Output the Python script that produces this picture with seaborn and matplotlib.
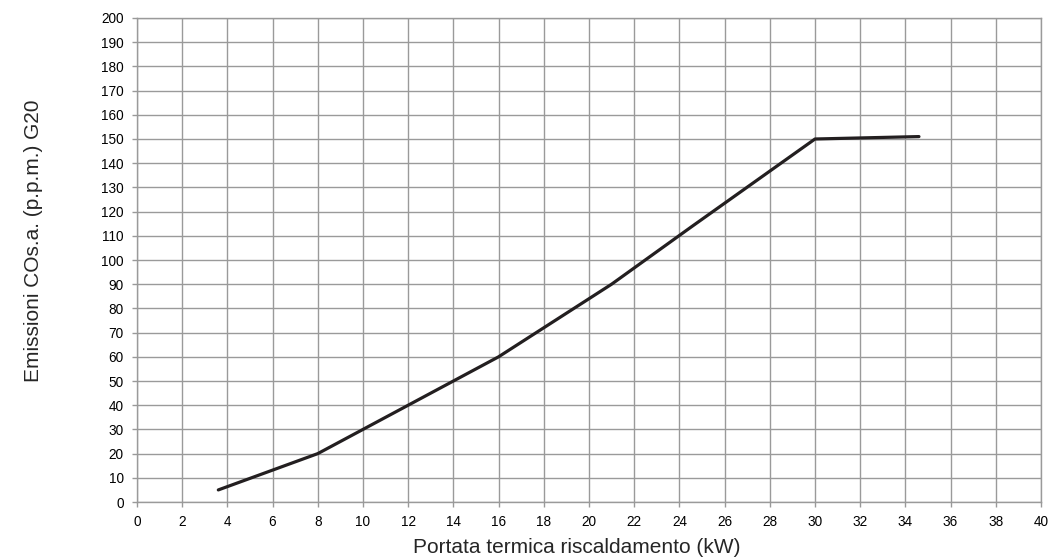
import matplotlib
matplotlib.use("Agg")
import matplotlib.pyplot as plt
import seaborn as sns
import pandas as pd

# data
portata_kw = [3.6, 8, 16, 21, 24.5, 30, 34.6]
emissioni_co = [5, 20, 60, 90, 113.5, 150, 151]

x_ticks = list(range(0, 41, 2))
y_ticks = list(range(0, 201, 10))

df = pd.DataFrame({"portata": portata_kw, "co": emissioni_co})

sns.set_style("white")
plt.rcParams["font.family"] = ["Liberation Sans", "DejaVu Sans"]

fig = plt.figure(figsize=(10.51, 5.57), dpi=100)
ax = fig.add_axes([0.1303, 0.0987, 0.8602, 0.869])

sns.lineplot(data=df, x="portata", y="co", ax=ax, color="#231f20",
             linewidth=2.3, sort=False, zorder=3)

ax.set_xlim(0, 40)
ax.set_ylim(0, 200)
ax.set_xticks(x_ticks)
ax.set_yticks(y_ticks)
ax.tick_params(axis="both", labelsize=9.8, colors="#999999", labelcolor="black",
               length=3.5, width=1, direction="out", pad=6,
               bottom=True, left=True)
ax.grid(True, color="#9a9a9a", linewidth=1)
for sp in ax.spines.values():
    sp.set_color("#9a9a9a")
    sp.set_linewidth(1)

ax.set_xlabel("Portata termica riscaldamento (kW)", fontsize=15, labelpad=6)
ax.set_ylabel("Emissioni COs.a. (p.p.m.) G20", fontsize=15, labelpad=42)
# labels sit a bit off-centre in the original
ax.xaxis.label.set_x(0.487)
ax.yaxis.label.set_y(0.539)

fig.savefig("out.png", dpi=100)
